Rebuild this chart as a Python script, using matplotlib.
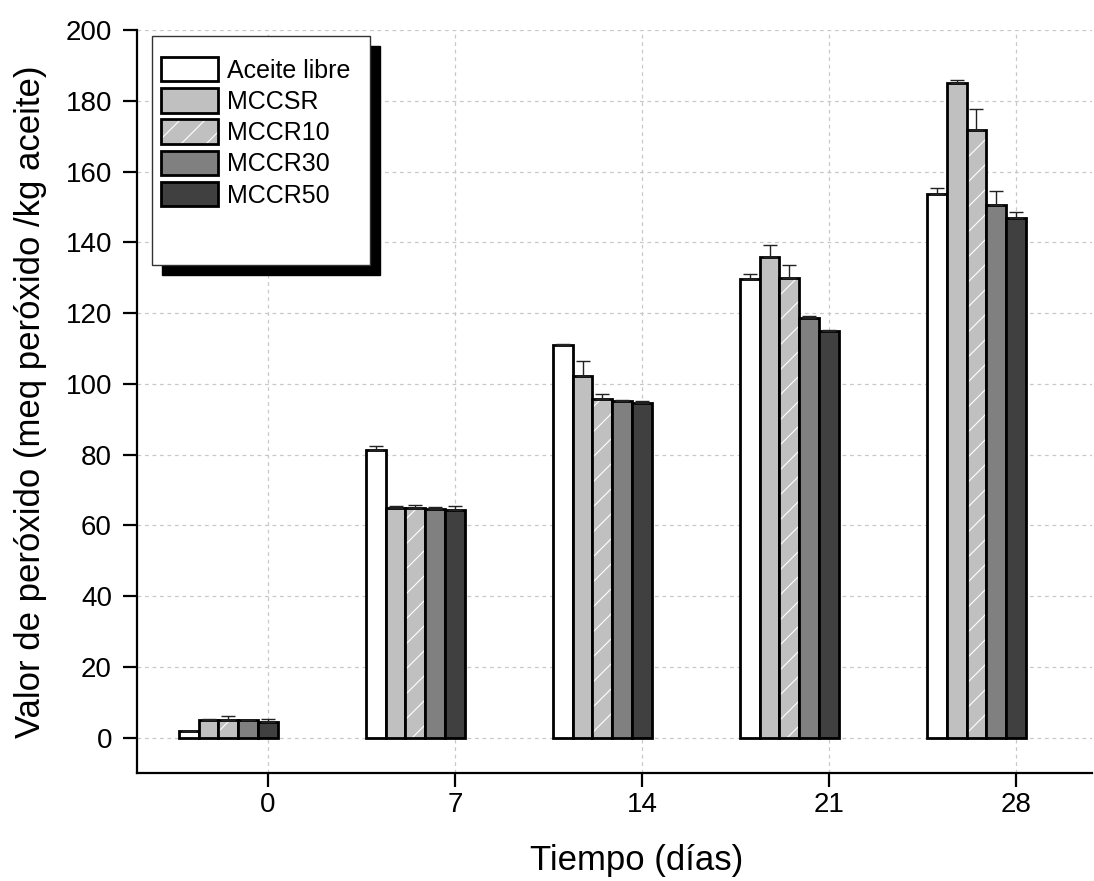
import numpy as np
import matplotlib
matplotlib.use('Agg')
import matplotlib.pyplot as plt
import matplotlib.hatch as mhatch
from matplotlib.patches import Patch, Rectangle
from matplotlib.legend_handler import HandlerTuple

# data
dias = ['0', '7', '14', '21', '28']
series = ['Aceite libre', 'MCCSR', 'MCCR10', 'MCCR30', 'MCCR50']
aceite = [1.8, 81.4, 111.0, 129.6, 153.6]
aceite_err = [0.2, 0.9, 0.3, 1.3, 1.8]
mccsr = [5.1, 65.0, 102.3, 135.7, 184.9]
mccsr_err = [0.3, 0.5, 4.2, 3.4, 0.9]
mccr10 = [5.0, 65.0, 95.7, 129.9, 171.7]
mccr10_err = [1.2, 0.8, 1.3, 3.8, 5.9]
mccr30 = [4.9, 64.7, 95.2, 118.6, 150.6]
mccr30_err = [0.2, 0.4, 0.2, 0.6, 3.8]
mccr50 = [4.3, 64.4, 94.5, 115.0, 146.9]
mccr50_err = [1.1, 1.1, 0.7, 0.3, 1.6]

values = [aceite, mccsr, mccr10, mccr30, mccr50]
errors = [aceite_err, mccsr_err, mccr10_err, mccr30_err, mccr50_err]
colors = ['white', '#c0c0c0', '#c0c0c0', '#808080', '#404040']
hatches = [None, None, '/', None, None]


class SparseNorthEast(mhatch.NorthEastHatch):
    """'/' hatch with ~8 lines per inch instead of 6 (closer to the original spacing)"""
    def __init__(self, hatch, density):
        super().__init__(hatch, density)
        self.num_lines = int(hatch.count('/') * 8)
        self.num_vertices = (self.num_lines + 1) * 2 if self.num_lines else 0


mhatch._hatch_types = [SparseNorthEast if t is mhatch.NorthEastHatch else t
                       for t in mhatch._hatch_types]

plt.rcParams['font.family'] = ['Liberation Sans', 'DejaVu Sans']
plt.rcParams['hatch.linewidth'] = 0.8

W, H = 1094, 881
fig = plt.figure(figsize=(W / 100, H / 100), dpi=100)


def px(x0, y0, x1, y1):
    """pixel box (top-left origin) -> figure fraction rect"""
    return [x0 / W, 1 - y1 / H, (x1 - x0) / W, (y1 - y0) / H]


ax = fig.add_axes(px(137, 30, 1092, 773))

x = np.arange(len(dias))
w = 0.106
edge_lw = 2.0

for i, (vals, errs) in enumerate(zip(values, errors)):
    pos = x + (i - 4) * w
    if hatches[i]:
        ax.bar(pos, vals, w, color=colors[i], edgecolor='white', hatch=hatches[i],
               linewidth=0, zorder=2 + 2 * i)
        ax.bar(pos, vals, w, fill=False, edgecolor='black', linewidth=edge_lw,
               zorder=2 + 2 * i)
    else:
        ax.bar(pos, vals, w, color=colors[i], edgecolor='black', linewidth=edge_lw,
               zorder=2 + 2 * i)
    ax.errorbar(pos, vals, yerr=[np.zeros(len(errs)), errs], fmt='none',
                ecolor='#222222', elinewidth=1.0, capsize=5, capthick=1.0,
                zorder=3 + 2 * i)

ax.set_xlim(-0.7005, 4.406)
ax.set_ylim(-10, 200)
ax.set_xticks(x)
ax.set_xticklabels(dias)
ax.set_yticks(np.arange(0, 201, 20))

ax.grid(True, color='#c8c8c8', linestyle=(0, (3, 3)), linewidth=0.9, zorder=0)
ax.set_axisbelow(True)

for s in ['top', 'right']:
    ax.spines[s].set_visible(False)
for s in ['left', 'bottom']:
    ax.spines[s].set_linewidth(1.6)

ax.tick_params(axis='both', direction='out', length=10, width=1.6, labelsize=20)
ax.tick_params(axis='y', pad=8)
ax.tick_params(axis='x', pad=4)

ax.set_xlabel('Tiempo (días)', fontsize=25)
ax.set_ylabel('Valor de peróxido (meq peróxido /kg aceite)', fontsize=25)
ax.xaxis.set_label_coords(0.5236, -0.096)
ax.yaxis.set_label_coords(-0.094, 0.499)

# legend frame with solid black shadow
sx, sy, sw, sh = px(161.7, 45.7, 380, 275)
fig.add_artist(Rectangle((sx, sy), sw, sh, transform=fig.transFigure,
                         facecolor='black', edgecolor='black', zorder=3))
fx, fy, fw, fh = px(151.7, 35.7, 370, 265)
fig.add_artist(Rectangle((fx, fy), fw, fh, transform=fig.transFigure,
                         facecolor='white', edgecolor='#333333', linewidth=1.0, zorder=4))

handles = []
for i in range(len(series)):
    if hatches[i]:
        handles.append((Patch(facecolor=colors[i], edgecolor='white', hatch=hatches[i], linewidth=0),
                        Patch(facecolor='none', edgecolor='black', linewidth=edge_lw)))
    else:
        handles.append(Patch(facecolor=colors[i], edgecolor='black', linewidth=edge_lw))

leg = fig.legend(handles, series, loc='upper left',
                 bbox_to_anchor=(161 / W, 1 - 57 / H), frameon=False,
                 fontsize=18, borderpad=0, handlelength=2.28, handleheight=1.13,
                 handletextpad=0.36, labelspacing=0.22, borderaxespad=0,
                 handler_map={tuple: HandlerTuple(ndivide=1, pad=0)})
leg.set_zorder(5)

fig.savefig('out.png', dpi=100)
